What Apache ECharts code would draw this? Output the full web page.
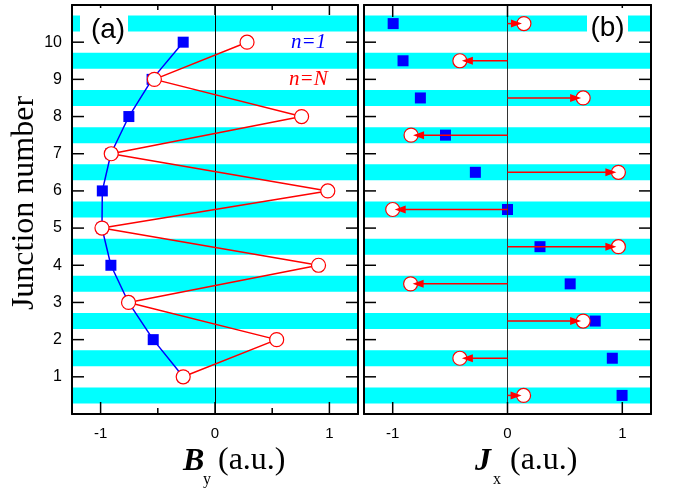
<!DOCTYPE html>
<html>
<head>
<meta charset="utf-8">
<script src="https://cdn.jsdelivr.net/npm/echarts@6/dist/echarts.min.js"></script>
<style>html,body{margin:0;padding:0;background:#fff}#c{width:676px;height:494px}</style>
</head>
<body>
<div id="c"></div>
<script>
// ---- data ----
const junctions = [1, 2, 3, 4, 5, 6, 7, 8, 9, 10];
const byN1 = [-0.278, -0.54, -0.756, -0.91, -0.988, -0.985, -0.91, -0.753, -0.55, -0.278];
const byNN = [-0.278, 0.539, -0.756, 0.905, -0.988, 0.986, -0.907, 0.757, -0.53, 0.28];
const rows = [0.5, 1.5, 2.5, 3.5, 4.5, 5.5, 6.5, 7.5, 8.5, 9.5, 10.5];
const jxN1 = [0.998, 0.913, 0.764, 0.546, 0.283, 0.0, -0.28, -0.54, -0.759, -0.91, -0.996];
const jxNN = [0.14, -0.415, 0.659, -0.844, 0.966, -1.0, 0.966, -0.84, 0.659, -0.415, 0.143];
const stripeCenters = [0.5, 1.5, 2.5, 3.5, 4.5, 5.5, 6.5, 7.5, 8.5, 9.5, 10.5];
const xTickLabels = [-1, 0, 1];
const xMinorTicks = [-0.5, 0.5];
const yTickLabels = [1, 2, 3, 4, 5, 6, 7, 8, 9, 10];

const STRIPE_HALF = 0.215;
const XMIN = -1.25, XMAX = 1.25, YMIN = 0, YMAX = 11;
const SANS = 'Liberation Sans';
const SERIF = 'Liberation Serif';

const chart = echarts.init(document.getElementById('c'), null, {renderer: 'canvas'});

function xAx(grid, pos, labels) {
  return {
    type: 'value', gridIndex: grid, position: pos, min: XMIN, max: XMAX, z: 10,
    minInterval: 1, maxInterval: 1,
    axisLine: {show: true, onZero: false, lineStyle: {color: '#000', width: 2}},
    axisTick: {show: false},
    axisLabel: {show: labels, customValues: xTickLabels, margin: 12, fontFamily: SANS, fontSize: 15, color: '#000'},
    splitLine: {show: false}
  };
}
function yAx(grid, pos, labels) {
  return {
    type: 'value', gridIndex: grid, position: pos, min: YMIN, max: YMAX, interval: 1, z: 10,
    axisLine: {show: true, onZero: false, lineStyle: {color: '#000', width: 2}},
    axisTick: {show: false},
    axisLabel: {show: labels, customValues: yTickLabels, margin: 10, fontFamily: SANS, fontSize: 16, color: '#000'},
    splitLine: {show: false}
  };
}

// inward tick marks drawn from the axis scales (api.coord)
function tickSeries(xi, yi, lens) {
  return {
    type: 'custom', xAxisIndex: xi, yAxisIndex: yi, z: 7, silent: true, clip: false,
    data: [[0, 0]],
    renderItem: function (params, api) {
      const ch = [];
      const st = {stroke: '#000', lineWidth: 1.5};
      const xTicks = [[xTickLabels, lens.bot, lens.top]];
      if (lens.minorBot) xTicks.push([xMinorTicks, lens.minorBot, lens.minorTop]);
      xTicks.forEach(([vals, lb, lt]) => {
        vals.forEach(v => {
          const b = api.coord([v, YMIN]);
          const t = api.coord([v, YMAX]);
          ch.push({type: 'line', shape: {x1: b[0], y1: b[1], x2: b[0], y2: b[1] - lb}, style: st});
          ch.push({type: 'line', shape: {x1: t[0], y1: t[1], x2: t[0], y2: t[1] + lt}, style: st});
        });
      });
      yTickLabels.forEach(v => {
        const l = api.coord([XMIN, v]);
        const r = api.coord([XMAX, v]);
        ch.push({type: 'line', shape: {x1: l[0], y1: l[1], x2: l[0] + 12, y2: l[1]}, style: st});
        ch.push({type: 'line', shape: {x1: r[0], y1: r[1], x2: r[0] - 12, y2: r[1]}, style: st});
      });
      return {type: 'group', children: ch};
    }
  };
}

function bgSeries(xi, yi, zeroColor) {
  return [
    {type: 'custom', xAxisIndex: xi, yAxisIndex: yi, z: 2, silent: true,
     data: stripeCenters.map(c => [0, c]),
     renderItem: function (params, api) {
       const c = api.value(1);
       const a = api.coord([XMIN, c + STRIPE_HALF]);
       const b = api.coord([XMAX, c - STRIPE_HALF]);
       return {type: 'rect', shape: {x: a[0], y: a[1], width: b[0] - a[0], height: b[1] - a[1]},
               style: {fill: '#00ffff'}};
     }},
    {type: 'scatter', xAxisIndex: xi, yAxisIndex: yi, data: [], z: 3, silent: true,
     markLine: {silent: true, symbol: ['none', 'none'], label: {show: false},
       lineStyle: {color: zeroColor, width: 1, type: 'solid'}, data: [{xAxis: 0}]}}
  ];
}

const option = {
  animation: false,
  backgroundColor: '#fff',
  grid: [
    {left: 72, top: 5, width: 286, height: 409, show: false},
    {left: 364, top: 5, width: 287, height: 409, show: false}
  ],
  xAxis: [
    xAx(0, 'bottom', true),   // 0 left panel
    xAx(0, 'top', false),     // 1
    xAx(1, 'bottom', true),   // 2 right panel
    xAx(1, 'top', false)      // 3
  ],
  yAxis: [
    yAx(0, 'left', true),    // 0
    yAx(0, 'right', false),  // 1
    yAx(1, 'left', false),   // 2
    yAx(1, 'right', false)   // 3
  ],
  series: [
    ...bgSeries(0, 0, '#000'),
    ...bgSeries(2, 2, '#333'),
    {type: 'line', xAxisIndex: 0, yAxisIndex: 0, z: 4,
     data: junctions.map((j, i) => [byN1[i], j]),
     symbol: 'rect', symbolSize: 11, showAllSymbol: true,
     itemStyle: {color: '#0000ff'}, lineStyle: {color: '#0000ff', width: 1.5}},
    {type: 'line', xAxisIndex: 0, yAxisIndex: 0, z: 5,
     data: junctions.map((j, i) => [byNN[i], j]),
     symbol: 'circle', symbolSize: 14, showAllSymbol: true,
     itemStyle: {color: '#fff', borderColor: '#ff0000', borderWidth: 1.2},
     lineStyle: {color: '#ff0000', width: 1.5}},
    {type: 'scatter', xAxisIndex: 2, yAxisIndex: 2, z: 4,
     data: rows.map((r, i) => [jxN1[i], r]),
     symbol: 'rect', symbolSize: 11, itemStyle: {color: '#0000ff', opacity: 1}},
    {type: 'scatter', xAxisIndex: 2, yAxisIndex: 2, z: 5,
     data: rows.map((r, i) => [jxNN[i], r]),
     symbol: 'circle', symbolSize: 14,
     itemStyle: {color: '#fff', borderColor: '#ff0000', borderWidth: 1.2, opacity: 1}},
    {type: 'custom', xAxisIndex: 2, yAxisIndex: 2, z: 6, silent: true,
     data: rows.map((r, i) => [jxNN[i], r]),
     renderItem: function (params, api) {
       const x = api.value(0), y = api.value(1);
       const p0 = api.coord([0, y]);
       const p1 = api.coord([x, y]);
       const dir = p1[0] >= p0[0] ? 1 : -1;
       const tip = p1[0] - dir * 2;
       const base = tip - dir * 11;
       return {
         type: 'group',
         children: [
           {type: 'line', shape: {x1: p0[0], y1: p0[1], x2: base + dir * 1, y2: p0[1]},
            style: {stroke: '#ff0000', lineWidth: 1.5}},
           {type: 'polygon', shape: {points: [[tip, p1[1]], [base, p1[1] - 4], [base, p1[1] + 4]]},
            style: {fill: '#ff0000'}}
         ]
       };
     }},
    tickSeries(0, 0, {bot: 12, top: 10, minorBot: 6, minorTop: 5}),
    tickSeries(2, 2, {bot: 12, top: 12})
  ],
  graphic: [
    {type: 'rect', shape: {x: 80, y: 8, width: 48, height: 30}, style: {fill: '#fff'}, z: 100},
    {type: 'text', x: 108, y: 30, z: 101, style: {text: '(a)', font: '28px ' + SANS, fill: '#000', textAlign: 'center', textVerticalAlign: 'middle'}},
    {type: 'rect', shape: {x: 587, y: 8, width: 41, height: 30}, style: {fill: '#fff'}, z: 100},
    {type: 'text', x: 607.5, y: 28, z: 101, style: {text: '(b)', font: '28px ' + SANS, fill: '#000', textAlign: 'center', textVerticalAlign: 'middle'}},
    {type: 'text', x: 291, y: 42, z: 101, style: {text: 'n=1', font: 'italic 21px ' + SERIF, fill: '#0000ff', textAlign: 'left', textVerticalAlign: 'middle'}},
    {type: 'text', x: 289, y: 79, z: 101, style: {text: 'n=N', font: 'italic 21px ' + SERIF, fill: '#ff0000', textAlign: 'left', textVerticalAlign: 'middle'}},
    {type: 'text', x: 25, y: 203, rotation: Math.PI / 2, z: 101, style: {text: 'Junction number', font: '32px ' + SERIF, fill: '#000', textAlign: 'center', textVerticalAlign: 'middle'}},
    {type: 'text', x: 183, y: 462, z: 101, style: {text: 'B', font: 'italic bold 32px ' + SERIF, fill: '#000', textAlign: 'left', textVerticalAlign: 'middle'}},
    {type: 'text', x: 203, y: 480, z: 101, style: {text: 'y', font: '16px ' + SERIF, fill: '#000', textAlign: 'left', textVerticalAlign: 'middle'}},
    {type: 'text', x: 218, y: 461, z: 101, style: {text: '(a.u.)', font: '32px ' + SERIF, fill: '#000', textAlign: 'left', textVerticalAlign: 'middle'}},
    {type: 'text', x: 475, y: 462, z: 101, style: {text: 'J', font: 'italic bold 32px ' + SERIF, fill: '#000', textAlign: 'left', textVerticalAlign: 'middle'}},
    {type: 'text', x: 493, y: 480, z: 101, style: {text: 'x', font: '16px ' + SERIF, fill: '#000', textAlign: 'left', textVerticalAlign: 'middle'}},
    {type: 'text', x: 510, y: 461, z: 101, style: {text: '(a.u.)', font: '32px ' + SERIF, fill: '#000', textAlign: 'left', textVerticalAlign: 'middle'}}
  ]
};
chart.setOption(option);
</script>
</body>
</html>
